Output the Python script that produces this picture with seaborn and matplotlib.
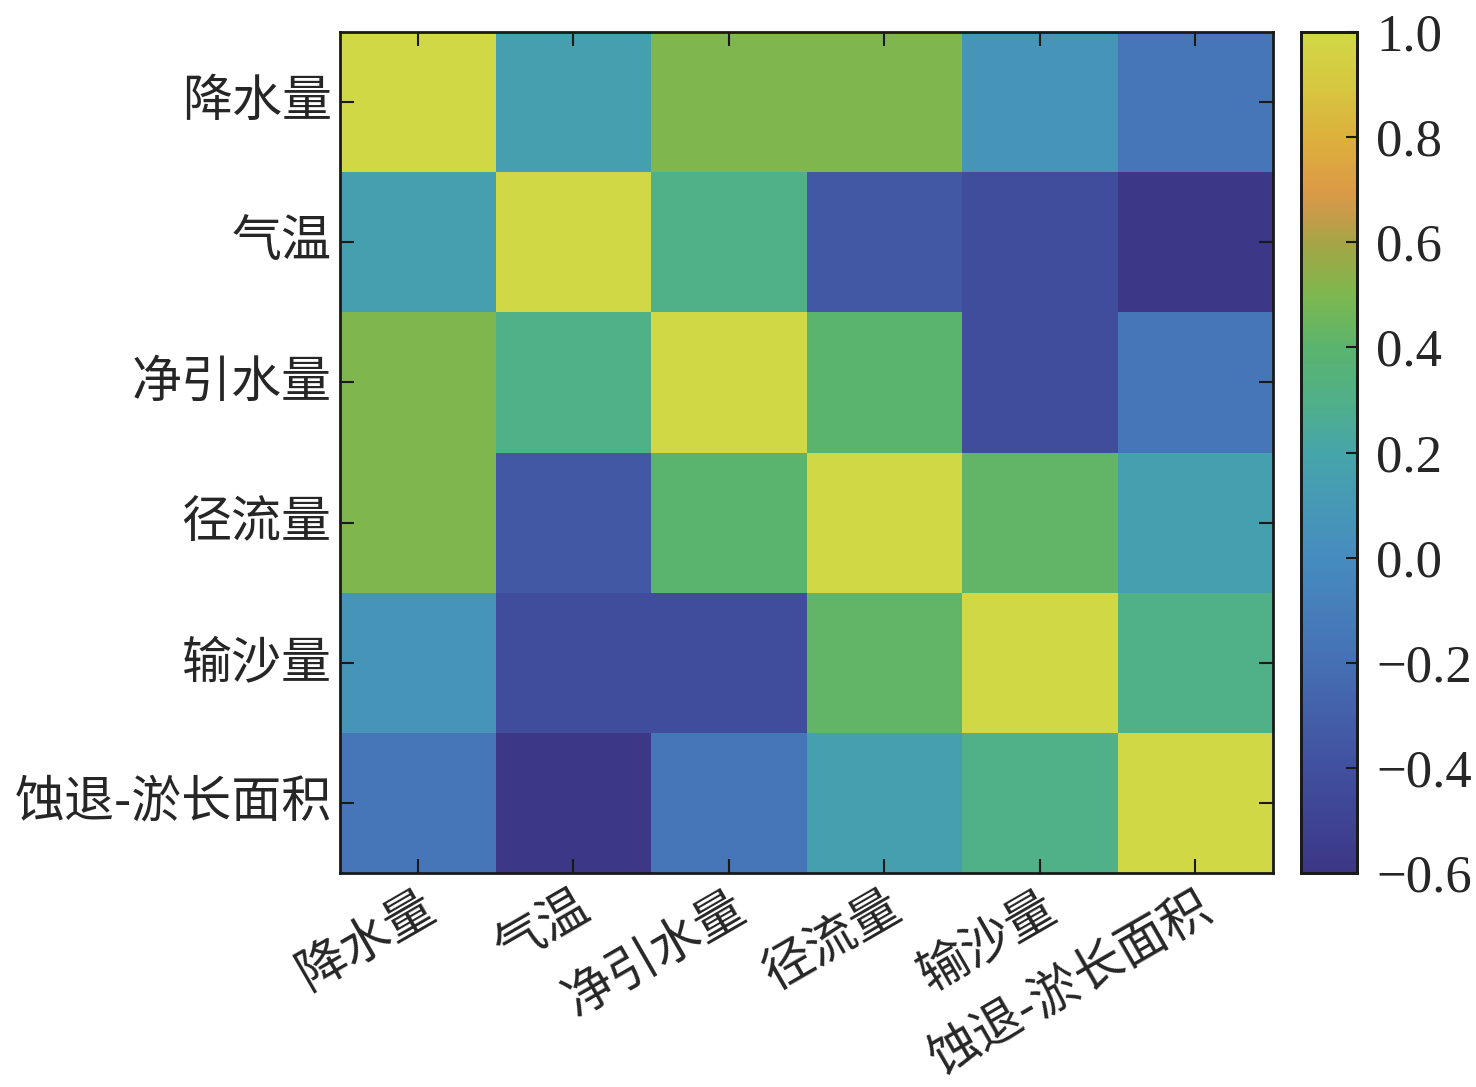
import numpy as np
import pandas as pd
import matplotlib
matplotlib.use("Agg")
import matplotlib.pyplot as plt
import seaborn as sns
from matplotlib.colors import LinearSegmentedColormap

# ==========================================
# データ (相関係数行列)
# ==========================================
labels = ["降水量", "气温", "净引水量", "径流量", "输沙量", "蚀退-淤长面积"]
row_precip = [1.00, 0.15, 0.50, 0.50, 0.07, -0.15]
row_temp = [0.15, 1.00, 0.30, -0.35, -0.42, -0.60]
row_diversion = [0.50, 0.30, 1.00, 0.40, -0.42, -0.15]
row_runoff = [0.50, -0.35, 0.40, 1.00, 0.42, 0.15]
row_sediment = [0.07, -0.42, -0.42, 0.42, 1.00, 0.30]
row_area = [-0.15, -0.60, -0.15, 0.15, 0.30, 1.00]
cbar_ticks = [-0.6, -0.4, -0.2, 0.0, 0.2, 0.4, 0.6, 0.8, 1.0]

corr = pd.DataFrame(
    [row_precip, row_temp, row_diversion, row_runoff, row_sediment, row_area],
    index=labels, columns=labels,
)

# parula風カラーマップ (0.7付近にオレンジ)
cmap = LinearSegmentedColormap.from_list("custom", [
    (0.0000, "#3c3786"),
    (0.1250, "#4150a0"),
    (0.2500, "#4670b4"),
    (0.3750, "#468cc0"),
    (0.5000, "#46a5aa"),
    (0.5625, "#50b087"),
    (0.6250, "#5ab46e"),
    (0.6875, "#7db84e"),
    (0.7500, "#a5a545"),
    (0.7800, "#c49c4a"),
    (0.8125, "#dc9a46"),
    (0.8750, "#dcb03c"),
    (0.9400, "#d6c840"),
    (1.0000, "#d0d846"),
])

sns.set_style("white")
plt.rcParams['font.family'] = ['Liberation Serif', 'Noto Sans CJK SC']
plt.rcParams['axes.unicode_minus'] = True

fig = plt.figure(figsize=(14.76, 10.87), dpi=100)
ax = fig.add_axes([340 / 1476, 1 - 873 / 1087, 933 / 1476, 841 / 1087])
cax = fig.add_axes([1301 / 1476, 1 - 873 / 1087, 56 / 1476, 841 / 1087])

sns.heatmap(corr, cmap=cmap, vmin=-0.6, vmax=1.0, ax=ax, cbar_ax=cax,
            cbar_kws={'ticks': cbar_ticks})

# 枠線と内向き目盛 (目盛をセルの上に描く)
ax.set_axisbelow(False)
for spine in ax.spines.values():
    spine.set_visible(True)
    spine.set_linewidth(2)
    spine.set_color('#1a1a1a')
ax.tick_params(axis='both', direction='in', length=10, width=1.5,
               top=True, right=True, bottom=True, left=True, color='#1a1a1a',
               labeltop=False, labelright=False, pad=6)
ax.set_yticklabels(labels, rotation=0, fontsize=36, family=['Noto Sans CJK SC'])
ax.set_xticklabels(labels, rotation=30, ha='right', rotation_mode='anchor',
                   fontsize=36, family=['Noto Sans CJK SC'])
ax.set_xlabel('')
ax.set_ylabel('')

cax.set_axisbelow(False)
for spine in cax.spines.values():
    spine.set_visible(True)
    spine.set_linewidth(2)
    spine.set_color('#1a1a1a')
cax.tick_params(direction='in', length=8, width=1.5, labelsize=38,
                color='#1a1a1a', pad=14)
cax.set_yticklabels([f"{t:.1f}".replace('-', '\u2212') for t in cbar_ticks])

plt.savefig("out.png", dpi=100)
